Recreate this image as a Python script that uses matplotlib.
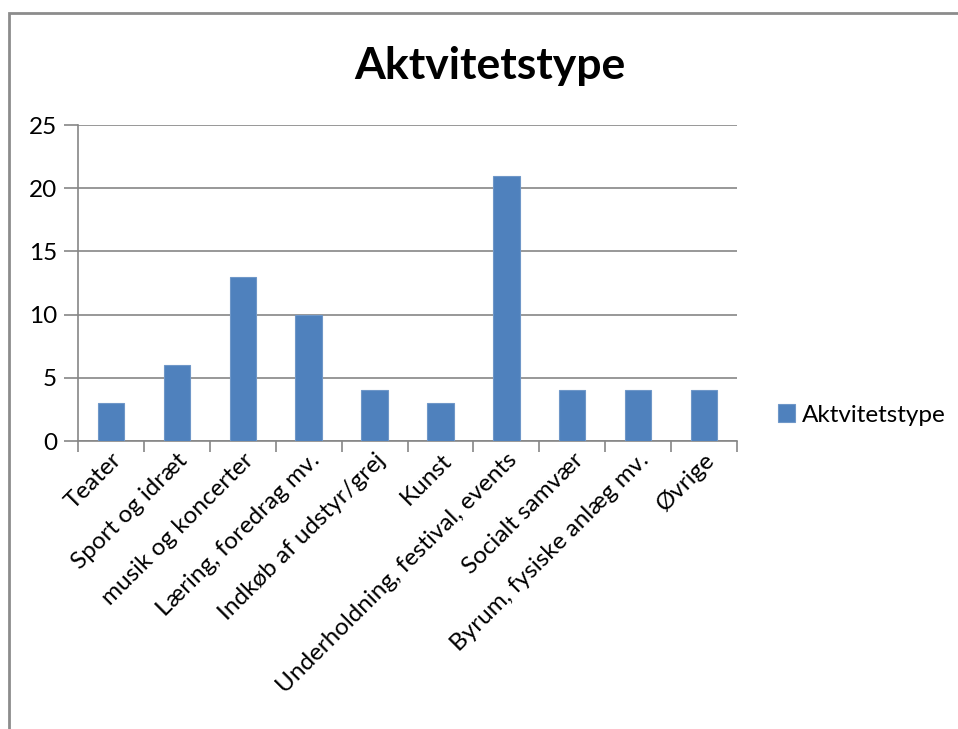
import matplotlib
matplotlib.use("Agg")
import matplotlib.pyplot as plt
from matplotlib.patches import Rectangle

categories = ["Teater", "Sport og idræt", "musik og koncerter",
              "Læring, foredrag mv.", "Indkøb af udstyr/grej", "Kunst",
              "Underholdning, festival, events", "Socialt samvær",
              "Byrum, fysiske anlæg mv.", "Øvrige"]
values = [3, 6, 13, 10, 4, 3, 21, 4, 4, 4]
series_name = "Aktvitetstype"
y_ticks = [0, 5, 10, 15, 20, 25]

plt.rcParams['font.family'] = ['Lato', 'DejaVu Sans']

fig = plt.figure(figsize=(9.58, 7.29), dpi=100)
W, H = 958, 729
ax = fig.add_axes([78 / W, 1 - 441 / H, (737 - 78) / W, (441 - 125) / H])

# chart area border
fig.patches.append(Rectangle((8.5 / W, -0.1), 2, 1 - 12.5 / H + 0.1,
                             transform=fig.transFigure, fill=False,
                             edgecolor="#8c8c8c", linewidth=2))

x = list(range(len(categories)))
ax.bar(x, values, width=0.4, color="#4F81BD", edgecolor="#6f97c8",
       linewidth=0.8, label=series_name, zorder=3)

ax.set_xlim(-0.5, len(categories) - 0.5)
ax.set_ylim(0, 25)
ax.set_yticks(y_ticks)
ax.yaxis.grid(True, color="#868686", linewidth=1.2, zorder=0)

ax.set_xticks([i + 0.5 for i in range(-1, len(categories))])
ax.set_xticklabels([])
ax.set_xticks(x, minor=True)
ax.set_xticklabels(categories, minor=True, rotation=45, ha="right",
                   rotation_mode="anchor", fontsize=17.5)
ax.tick_params(axis="x", which="minor", length=0, pad=6)
ax.tick_params(axis="x", which="major", length=8, color="#868686", width=1.2)
ax.tick_params(axis="y", length=10, color="#868686", width=1.2,
               labelsize=17.5, pad=5)

for s in ["top", "right"]:
    ax.spines[s].set_visible(False)
for s in ["left", "bottom"]:
    ax.spines[s].set_color("#868686")
    ax.spines[s].set_linewidth(1.2)

fig.text(490 / W, 1 - 66 / H, series_name, ha="center", va="center",
         fontsize=32, fontweight="bold")

fig.legend(loc="center left", bbox_to_anchor=(756 / W, 1 - 415 / H),
           frameon=False, fontsize=17.5, handlelength=0.7, handleheight=0.7,
           handletextpad=0.3)

fig.savefig("out.png", dpi=100, facecolor="white")
